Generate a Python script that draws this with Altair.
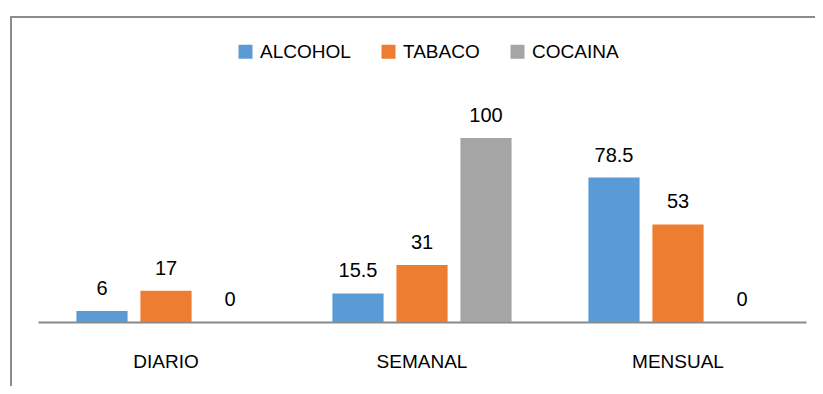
import altair as alt
import pandas as pd

categories = ["DIARIO", "SEMANAL", "MENSUAL"]
series = ["ALCOHOL", "TABACO", "COCAINA"]
alcohol = [6, 15.5, 78.5]
tabaco = [17, 31, 53]
cocaina = [0, 100, 0]
colors = ["#5B9BD5", "#ED7D31", "#A5A5A5"]

rows = []
for s, vals in zip(series, [alcohol, tabaco, cocaina]):
    for c, v in zip(categories, vals):
        rows.append({"cat": c, "serie": s, "valor": v, "lbl": f"{v:g}"})
df = pd.DataFrame(rows)

FONT = "Liberation Sans"

x = alt.X("cat:N", sort=categories, title=None,
          scale=alt.Scale(paddingInner=0.25, paddingOuter=0.125),
          axis=alt.Axis(labelAngle=0, labelFontSize=19, labelFont=FONT, labelColor="#000000",
                        ticks=False, domainColor="#898989", domainWidth=2, labelPadding=30))
xo = alt.XOffset("serie:N", sort=series, scale=alt.Scale(paddingInner=0.2, paddingOuter=0.1))
y = alt.Y("valor:Q", scale=alt.Scale(domain=[0, 100]), axis=None)

base = alt.Chart(df)

bars = base.mark_bar().encode(
    x=x, xOffset=xo, y=y,
    color=alt.Color("serie:N", sort=series,
                    scale=alt.Scale(domain=series, range=colors),
                    legend=alt.Legend(title=None, orient="none", direction="horizontal",
                                      legendX=198, legendY=-96,
                                      symbolType="square", symbolSize=196, symbolStrokeWidth=0,
                                      labelFontSize=19, labelFont=FONT, labelColor="#000000",
                                      labelOffset=5, columnPadding=28, symbolOpacity=1)),
)

labels = base.mark_text(baseline="bottom", dy=-12, fontSize=20, font=FONT, color="#000000").encode(
    x=x, xOffset=xo, y=y, text="lbl:N"
)

frame_top = alt.Chart(pd.DataFrame({"a": [0]})).mark_rule(color="#8c8c8c", strokeWidth=2).encode(
    x=alt.value(-27), x2=alt.value(820), y=alt.value(-121)
)
frame_left = alt.Chart(pd.DataFrame({"a": [0]})).mark_rule(color="#8c8c8c", strokeWidth=2).encode(
    x=alt.value(-27), y=alt.value(-122), y2=alt.value(290)
)

chart = alt.layer(bars, labels, frame_top, frame_left).properties(
    width=768, height=184,
    autosize=alt.AutoSizeParams(type="none"),
    padding={"left": 30, "top": 130, "right": 9, "bottom": 64},
).configure(background="white", view=alt.ViewConfig(strokeWidth=0, strokeOpacity=0))

chart.save("out.html", embed_options={"renderer": "svg", "actions": False})
